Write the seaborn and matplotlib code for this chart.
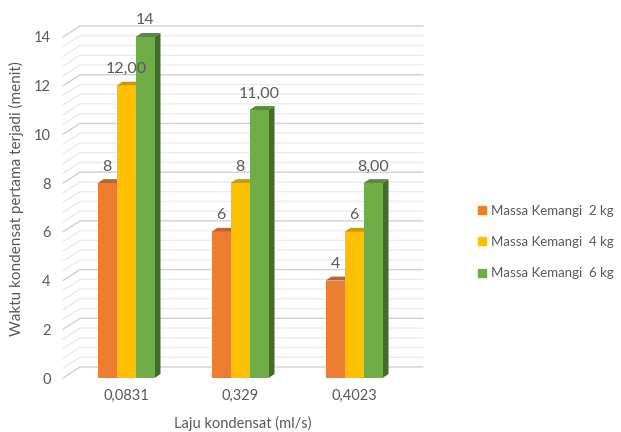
import numpy as np
import pandas as pd
import matplotlib
matplotlib.use("Agg")
import matplotlib.pyplot as plt
from matplotlib.patches import Polygon
from matplotlib.lines import Line2D
import matplotlib.colors as mcolors
import seaborn as sns

# data
laju = ['0,0831', '0,329', '0,4023']
massa = ['Massa Kemangi  2 kg', 'Massa Kemangi  4 kg', 'Massa Kemangi  6 kg']
waktu_2kg = [8, 6, 4]
waktu_4kg = [12, 8, 6]
waktu_6kg = [14, 11, 8]
labels_2kg = ['8', '6', '4']
labels_4kg = ['12,00', '8', '6']
labels_6kg = ['14', '11,00', '8,00']
colors = ['#ED7D31', '#FFC000', '#70AD47']

df = pd.DataFrame({
    'laju': laju * 3,
    'massa': [m for m in massa for _ in laju],
    'waktu': waktu_2kg + waktu_4kg + waktu_6kg,
})
bar_labels = [labels_2kg, labels_4kg, labels_6kg]

sns.set_style('white')
plt.rcParams['font.family'] = ['Lato', 'DejaVu Sans']
txt = '#595959'

fig = plt.figure(figsize=(6.21, 4.32), dpi=100)
W, H = 621, 432
ax = fig.add_axes([63 / W, (H - 378) / H, (423 - 63) / W, (378 - 20) / H])

sns.barplot(data=df, x='laju', y='waktu', hue='massa', order=laju, hue_order=massa,
            palette=colors, width=0.5, saturation=1, legend=False, ax=ax,
            edgecolor='none', linewidth=0)

px_x = 114.0            # pixels per category
px_y = 341.0 / 14       # pixels per unit
ax.set_xlim(-63 / px_x, -63 / px_x + (423 - 63) / px_x)
ax.set_ylim(0, 358 / px_y)

# pseudo 3D side and top of each bar
dx, dy = 6 / px_x, 4 / px_y
for i, cont in enumerate(ax.containers):
    base = mcolors.to_rgb(colors[i])
    side = tuple(c * 0.62 for c in base)
    top = tuple(c * 0.8 for c in base)
    for j, bar in enumerate(cont):
        x0 = bar.get_x()
        x1 = x0 + bar.get_width()
        h = bar.get_height()
        bar.set_zorder(3 + i)
        ax.add_patch(Polygon([(x1, 0), (x1 + dx, dy), (x1 + dx, h + dy), (x1, h)],
                             closed=True, fc=side, ec='none', zorder=2.5 + i))
        ax.add_patch(Polygon([(x0, h), (x0 + dx, h + dy), (x1 + dx, h + dy), (x1, h)],
                             closed=True, fc=top, ec='none', zorder=2.5 + i))
        ax.annotate(bar_labels[i][j], ((x0 + x1) / 2, h + dy), xytext=(0, 4),
                    textcoords='offset points', ha='center', va='bottom',
                    fontsize=11.5, color=txt, zorder=10)

# back wall gridlines with the slanted left wall
wx, wy = 17 / px_x, 11 / px_y
xl, xr = ax.get_xlim()
for k, v in enumerate(np.arange(0, 14.01, 0.4)):
    col = '#D0D0D0' if k % 5 == 0 else '#EBEBEB'
    ax.plot([xl, xl + wx, xr], [v, v + wy, v + wy], color=col, lw=1, zorder=1,
            clip_on=False)

ax.set_yticks(np.arange(0, 15, 2))
ax.set_yticklabels([str(v) for v in range(0, 15, 2)])
ax.tick_params(axis='y', length=0, pad=9, labelsize=10.5, labelcolor=txt)
ax.tick_params(axis='x', length=0, pad=8, labelsize=10.5, labelcolor=txt)
for s in ax.spines.values():
    s.set_visible(False)
ax.grid(False)

ax.set_xlabel('Laju kondensat (ml/s)', fontsize=10.5, color=txt, labelpad=9)
ax.set_ylabel('Waktu kondensat pertama terjadi (menit)', fontsize=11, color=txt,
              labelpad=7)

handles = [Line2D([], [], marker='s', ls='none', color=c, markersize=6) for c in colors]
fig.legend(handles, massa, loc='center left', bbox_to_anchor=(476 / W, 1 - 242 / H),
           frameon=False, fontsize=9.5, labelcolor=txt, handletextpad=0.2,
           labelspacing=1.45, handlelength=0.9, borderpad=0, borderaxespad=0)

fig.savefig('out.png', dpi=100)
